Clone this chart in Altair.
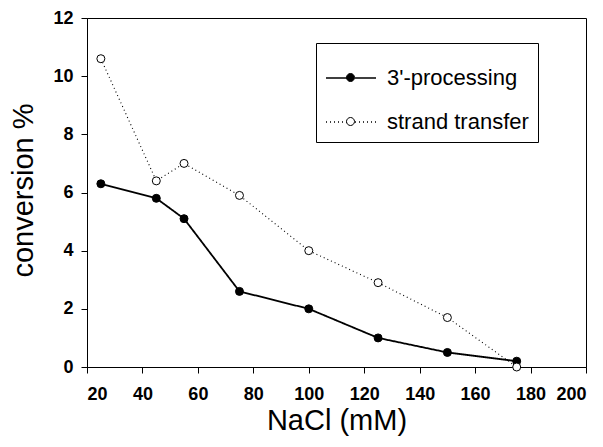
import altair as alt
import pandas as pd

nacl = [25, 45, 55, 75, 100, 125, 150, 175]
processing = [6.3, 5.8, 5.1, 2.6, 2.0, 1.0, 0.5, 0.2]
strand = [10.6, 6.4, 7.0, 5.9, 4.0, 2.9, 1.7, 0.0]
series_names = ["3'-processing", "strand transfer"]

rows = []
for name, vals in zip(series_names, [processing, strand]):
    for xv, yv in zip(nacl, vals):
        rows.append({"nacl": xv, "conv": yv, "series": name, "series2": name})
df = pd.DataFrame(rows)

FONT = "Liberation Sans"

x = alt.X("nacl:Q", scale=alt.Scale(domain=[20, 200], nice=False),
          axis=alt.Axis(title="NaCl (mM)", values=list(range(20, 201, 20)),
                        titleY=62, titleBaseline="alphabetic",
                        labelPadding=12))
y = alt.Y("conv:Q", scale=alt.Scale(domain=[0, 12], nice=False),
          axis=alt.Axis(title="conversion %", values=list(range(0, 13, 2)),
                        titleX=-55, titleY=172, titleBaseline="alphabetic",
                        labelPadding=8))

leg_common = dict(title=None, orient="none", legendX=229, legendY=25,
                  symbolSize=2500, labelFont=FONT, labelFontSize=22,
                  labelOffset=10, padding=9, rowPadding=7, labelLimit=400,
                  symbolStrokeColor="black")

lines = alt.Chart(df).mark_line(color="black").encode(
    x=x, y=y,
    strokeDash=alt.StrokeDash("series:N",
                              scale=alt.Scale(domain=series_names, range=[[1, 0], [1, 3]]),
                              legend=alt.Legend(symbolType="M-1,0H-0.16M0.16,0H1",
                                                symbolStrokeWidth=1.5,
                                                strokeColor="black",
                                                labelColor="black",
                                                **leg_common)),
    strokeWidth=alt.StrokeWidth("series:N",
                                scale=alt.Scale(domain=series_names, range=[1.8, 1.1]),
                                legend=None),
)

points = alt.Chart(df).mark_point(shape="circle", size=64, filled=True,
                                  stroke="black", strokeWidth=1, opacity=1).encode(
    x=x, y=y,
    fill=alt.Fill("series2:N",
                  scale=alt.Scale(domain=series_names, range=["black", "white"]),
                  legend=alt.Legend(symbolType="M0.16,0A0.16,0.16,0,1,1,-0.16,0A0.16,0.16,0,1,1,0.16,0Z",
                                    symbolStrokeWidth=1, labelOpacity=0,
                                    symbolOpacity=1, **leg_common)),
)

chart = alt.layer(lines, points).resolve_legend(
    strokeDash="independent", fill="independent"
).properties(
    width=499, height=349,
    autosize=alt.AutoSizeParams(type="none"),
    padding={"left": 79, "top": 10, "right": 9, "bottom": 72},
).configure_view(
    stroke="black", strokeWidth=1
).configure_axis(
    grid=False, domainColor="black", domainWidth=1, tickColor="black",
    tickSize=6, tickWidth=1, labelFont=FONT, labelFontSize=18,
    labelFontWeight="bold", labelColor="black", titleFont=FONT,
    titleFontSize=29, titleFontWeight="normal", titleColor="black",
)

chart.save("out.html", embed_options={"renderer": "svg", "actions": False})
